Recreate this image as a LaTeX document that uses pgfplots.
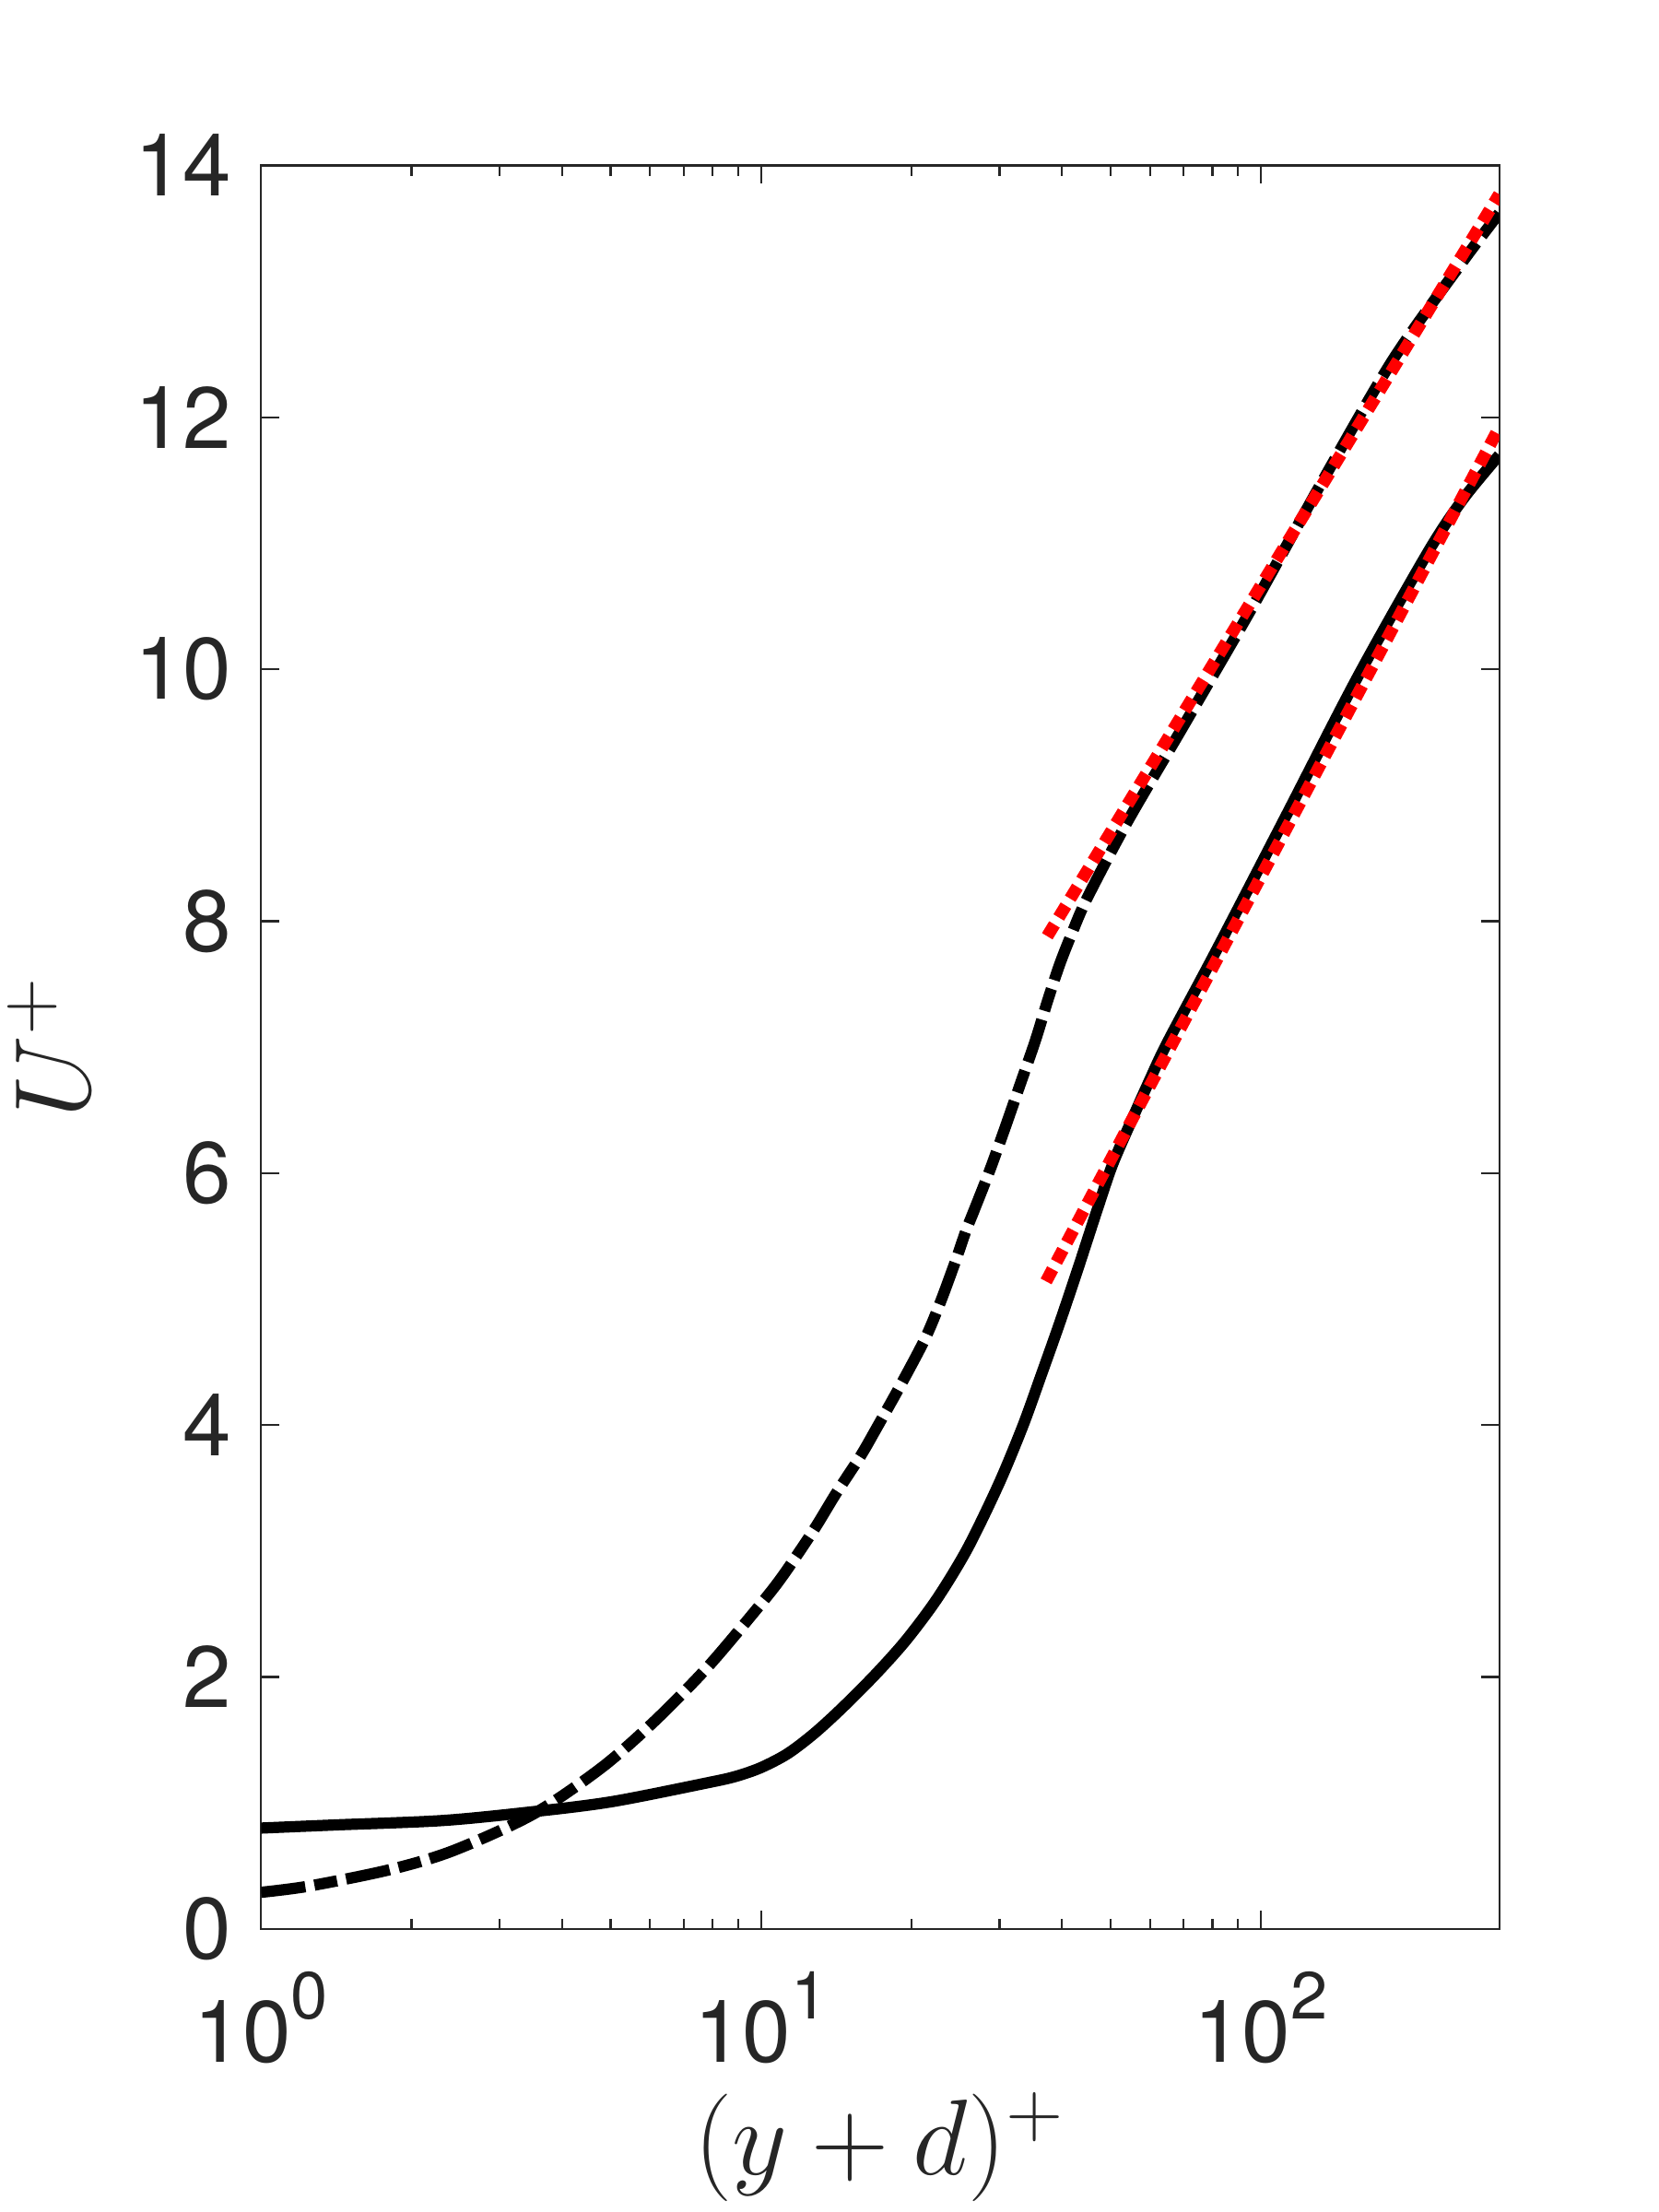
\IfFileExists{fix-cm.sty}{\RequirePackage{fix-cm}}{}
\documentclass[border=0pt]{standalone}
\usepackage{fontspec}
\setmainfont{TeX Gyre Heros}
\usepackage{pgfplots}
\pgfplotsset{compat=1.18}
\definecolor{mlgray}{RGB}{38,38,38}
\newcommand{\tpow}[1]{10\raisebox{8.6pt}{\fontsize{13}{13}\selectfont #1}}

\begin{document}
\begin{tikzpicture}
\begin{axis}[
  scale only axis,
  width=241.8pt, height=344.4pt,
  xmode=log, xmin=1, xmax=300,
  ymin=0, ymax=14,
  ytick={0,2,...,14},
  xtick={1,10,100},
  xticklabels={\tpow{0},\tpow{1},\tpow{2}},
  axis line style={mlgray, line width=0.4pt},
  every tick/.style={mlgray, line width=0.4pt},
  major tick length=3.6pt, minor tick length=2pt,
  tick align=inside,
  /pgf/number format/assume math mode=true,
  ticklabel style={font=\fontsize{17}{17}\selectfont, text=mlgray, inner sep=0pt},
  yticklabel style={anchor=east, xshift=-5.6pt},
  xticklabel style={anchor=north, yshift=-8.1pt},
  xlabel={$(y+d)^+$},
  ylabel={$U^+$},
  xlabel style={font=\fontsize{21}{25}\selectfont, text=mlgray, inner sep=0pt,
    at={(axis description cs:0.5,0)}, anchor=base, yshift=-48pt},
  ylabel style={font=\fontsize{21}{25}\selectfont, text=mlgray, inner sep=0pt,
    at={(axis description cs:-0.1381,0.5)}, anchor=base},
]
% dash-dot profile
\addplot[black, line width=2.2pt, mark=none, smooth,
  dash pattern=on 8.7pt off 1.8pt on 4.5pt off 1.8pt] coordinates {
  (1,0.29) (1.25,0.34) (1.81,0.47) (2.42,0.62) (3.5,0.91) (4.8,1.28)
  (6.13,1.65) (7.83,2.08) (10,2.58) (11.09,2.81) (12.77,3.17) (14.1,3.45)
  (15.8,3.75) (16.95,3.96) (18.99,4.31) (21.27,4.68) (22.83,4.97) (24.5,5.30)
  (25.7,5.54) (26.67,5.70) (28.62,6.01) (30.73,6.35) (32.98,6.70) (35.39,7.05)
  (37.47,7.37) (39.63,7.66) (41.95,7.91) (45.03,8.19) (54.1,8.79) (69.1,9.51)
  (95.8,10.48) (132.7,11.49) (184,12.46) (255,13.25) (300,13.62)};
% solid profile
\addplot[black, line width=2.2pt, mark=none, smooth] coordinates {
  (1,0.80) (1.41,0.825) (2.31,0.86) (3.5,0.93) (5.04,1.01) (7.83,1.16)
  (8.9,1.21) (10,1.28) (11.3,1.39) (12.77,1.55) (14.5,1.75) (16.95,2.02)
  (19.5,2.29) (22.5,2.62) (25.9,3.02) (29.9,3.53) (33.4,3.99) (36.4,4.40)
  (39.6,4.81) (43.15,5.25) (46.98,5.70) (50.42,6.06) (54.9,6.40) (59.8,6.73)
  (65.1,7.04) (81.3,7.76) (112.8,8.85) (156.3,9.94) (216.8,10.94) (255,11.36)
  (300,11.70)};
% log-law fits
\addplot[red, line width=2.4pt, mark=none, dash pattern=on 2.7pt off 1.6pt]
  coordinates {(37.4,7.88) (300,13.77)};
\addplot[red, line width=2.4pt, mark=none, dash pattern=on 2.7pt off 1.6pt]
  coordinates {(37.2,5.14) (300,11.92)};
\coordinate (BL) at (rel axis cs:0,0);
\coordinate (TR) at (rel axis cs:1,1);
\end{axis}
\pgfresetboundingbox
\path[use as bounding box] ([xshift=-51pt,yshift=-55.3pt]BL) rectangle ([xshift=31.1pt,yshift=32.3pt]TR);
\end{tikzpicture}
\end{document}
